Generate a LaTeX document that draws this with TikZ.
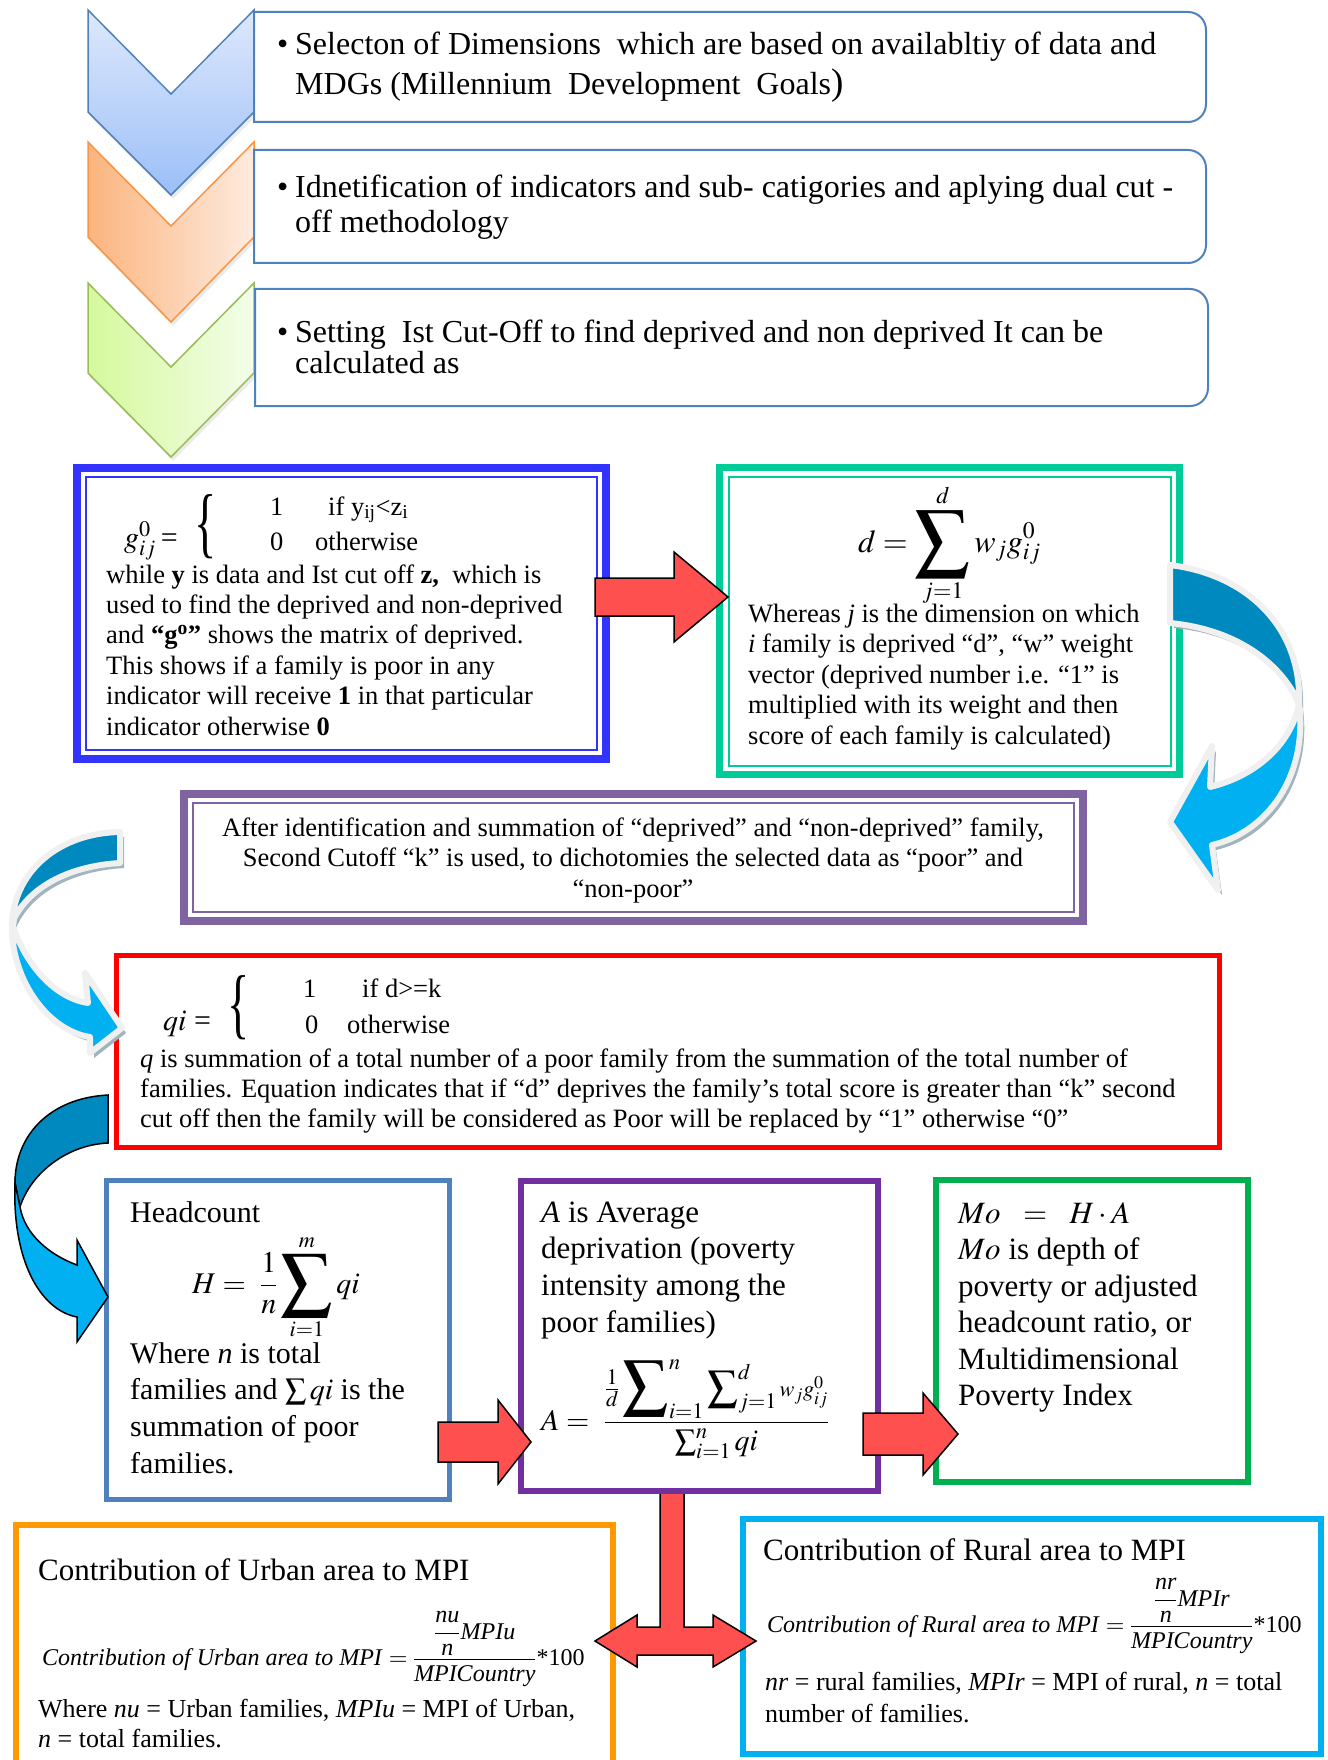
\documentclass[tikz,border=0pt]{standalone}
\usepackage{amsmath}
\usepackage{mathptmx}
\usepackage{fontspec}
\setmainfont{Liberation Serif}
\usetikzlibrary{calc}

\definecolor{chevbluetop}{HTML}{DDE8FC}
\definecolor{chevbluebot}{HTML}{9CBFF7}
\definecolor{chevblueline}{HTML}{4F81BD}
\definecolor{chevorgleft}{HTML}{FBB47E}
\definecolor{chevorgright}{HTML}{FEEBDF}
\definecolor{chevorgline}{HTML}{F79646}
\definecolor{chevgrnleft}{HTML}{D5F99C}
\definecolor{chevgrnright}{HTML}{F3FDE9}
\definecolor{chevgrnline}{HTML}{9BBB59}
\definecolor{stepline}{HTML}{4F81BD}
\definecolor{gboxline}{HTML}{3333FF}
\definecolor{dboxline}{HTML}{00CC99}
\definecolor{kboxline}{HTML}{8064A2}
\definecolor{qboxline}{HTML}{FF0000}
\definecolor{hboxline}{HTML}{4F81BD}
\definecolor{aboxline}{HTML}{7030A0}
\definecolor{moboxline}{HTML}{00B050}
\definecolor{uboxline}{HTML}{FF9900}
\definecolor{rboxline}{HTML}{00B0F0}
\definecolor{arrowred}{HTML}{FF5050}
\definecolor{turndark}{HTML}{0089BF}
\definecolor{turnlight}{HTML}{00B0F0}
\definecolor{turnrim}{HTML}{F0F0F0}
\definecolor{turnshade}{HTML}{9FB4BE}

\newcommand{\fsz}[2]{\fontsize{#1}{#2}\selectfont}
\newcommand{\textlines}[2]{\parbox[t]{#1}{#2}}
\newcommand{\bigsum}[1]{\mathop{\vcenter{\hbox{\scalebox{#1}{$\displaystyle\sum$}}}}}
\newcommand{\tallbrace}{\scalebox{1.1}[1.85]{\fsz{42}{42}\{}}

\tikzset{
  pbox/.style={draw, fill=white, inner sep=0pt, outer sep=0pt},
  txt/.style={inner sep=0pt, anchor=base west},
  stepframe/.style={draw=stepline, line width=2, fill=white},
  redblock/.style={fill=arrowred, draw=black, line width=1.5, line join=miter},
  twistback/.style={fill=turndark, draw=turnrim, line width=6, line join=round,
    preaction={fill=turnshade, transform canvas={shift={(4pt,-5pt)}}}},
  twistfront/.style={fill=turnlight, draw=turnrim, line width=6, line join=round,
    preaction={fill=turnshade, transform canvas={shift={(4pt,-5pt)}}}},
}

\begin{document}
\begin{tikzpicture}[x=1pt, y=-1pt]

  \useasboundingbox (0,0) rectangle (1327,1760);
  \fill[white] (0,0) rectangle (1327,1760);

  % chevrons on the left
  \fill[black!8] (90,14) -- (173,98) -- (256,14) -- (256,116) -- (173,199) -- (90,116) -- cycle;
  \shadedraw[top color=chevbluetop, bottom color=chevbluebot, draw=chevblueline, line width=1.5]
    (88,10) -- (171,94) -- (254,10) -- (254,112) -- (171,195) -- (88,112) -- cycle;
  \fill[black!8] (90,146) -- (173,230) -- (256,146) -- (256,241) -- (173,326) -- (90,241) -- cycle;
  \shadedraw[left color=chevorgleft, right color=chevorgright, draw=chevorgline, line width=1.5]
    (88,142) -- (171,226) -- (254,142) -- (254,237) -- (171,322) -- (88,237) -- cycle;
  \fill[black!8] (90,287) -- (173,371) -- (256,287) -- (256,377) -- (173,461) -- (90,377) -- cycle;
  \shadedraw[left color=chevgrnleft, right color=chevgrnright, draw=chevgrnline, line width=1.5]
    (88,283) -- (171,367) -- (254,283) -- (254,373) -- (171,457) -- (88,373) -- cycle;

  % step boxes
  \draw[stepframe] (254,12) -- (1188,12) .. controls (1198,12) and (1206,20) .. (1206,30)
    -- (1206,104) .. controls (1206,114) and (1198,122) .. (1188,122) -- (254,122) -- cycle;
  \draw[stepframe] (254,150) -- (1188,150) .. controls (1198,150) and (1206,158) .. (1206,168)
    -- (1206,245) .. controls (1206,255) and (1198,263) .. (1188,263) -- (254,263) -- cycle;
  \draw[stepframe] (255,289) -- (1190,289) .. controls (1200,289) and (1208,297) .. (1208,307)
    -- (1208,388) .. controls (1208,398) and (1200,406) .. (1190,406) -- (255,406) -- cycle;

  \node[txt, font=\fsz{32}{40}] (seltext) at (277,55) {\textlines{930pt}{\hangindent=18pt\hangafter=1
    \makebox[18pt][l]{\textbullet}Selecton of Dimensions\ \ which are based on availabltiy of data and\\
    MDGs (Millennium\ \ Development\ \ Goals{\fsz{37}{40})}}};
  \node[txt, font=\fsz{32}{35}] (idtext) at (277,198) {\textlines{930pt}{\hangindent=18pt\hangafter=1
    \makebox[18pt][l]{\textbullet}Idnetification of indicators and sub- catigories and aplying dual cut -\\
    off methodology}};
  \node[txt, font=\fsz{32}{31}] (settext) at (277,342) {\textlines{930pt}{\hangindent=18pt\hangafter=1
    \makebox[18pt][l]{\textbullet}Setting\ \ Ist Cut-Off to find deprived and non deprived It can be\\
    calculated as}};

  % bottom boxes and the T arrow under the A box
  \node[pbox, draw=uboxline, line width=6, minimum width=597, minimum height=247] (ubox) at (314.5,1648.5) {};
  \node[pbox, draw=rboxline, line width=6, minimum width=578, minimum height=235] (rbox) at (1032,1636.5) {};
  \draw[redblock] (660,1490) -- (660,1627) -- (637,1627) -- (637,1615) -- (595,1641) -- (637,1667)
    -- (637,1655) -- (713,1655) -- (713,1667) -- (756,1641) -- (713,1615) -- (713,1627)
    -- (684,1627) -- (684,1490);

  % framed boxes
  \node[pbox, draw=gboxline, line width=8, minimum width=529, minimum height=291] (gbox) at (341.5,613.5) {};
  \draw[gboxline, line width=2] ($(gbox.north west)+(9,9)$) rectangle ($(gbox.south east)+(-9,-9)$);
  \node[pbox, draw=dboxline, line width=7, minimum width=460, minimum height=307] (dbox) at (949.5,621) {};
  \draw[dboxline, line width=2] ($(dbox.north west)+(9,9)$) rectangle ($(dbox.south east)+(-9,-9)$);
  \node[pbox, draw=kboxline, line width=8, minimum width=899, minimum height=127] (kbox) at (633.5,857.5) {};
  \draw[kboxline, line width=2] ($(kbox.north west)+(9,9)$) rectangle ($(kbox.south east)+(-9,-9)$);
  \node[pbox, draw=qboxline, line width=5, minimum width=1103, minimum height=192] (qbox) at (668,1051.5) {};
  \node[pbox, draw=hboxline, line width=5, minimum width=343, minimum height=319] (hbox) at (278,1340) {};
  \node[pbox, draw=aboxline, line width=6, minimum width=357, minimum height=310] (abox) at (699.5,1336) {};
  \node[pbox, draw=moboxline, line width=6, minimum width=312, minimum height=302] (mobox) at (1092,1331) {};

  % first cut-off
  \node[txt, font=\fsz{30}{30}] (gdef) at (124,547) {$g^0_{ij}$\,=};
  \node[inner sep=0pt, anchor=west, font=\fsz{26}{30}] (gbrace) at (194,527) {\tallbrace};
  \node[txt, font=\fsz{26.5}{30}] (gone) at (270,515) {1};
  \node[txt, font=\fsz{26.5}{30}] (gif) at (328,515) {if y\textsubscript{ij}<z\textsubscript{i}};
  \node[txt, font=\fsz{26.5}{30}] (gzero) at (270,550) {0};
  \node[txt, font=\fsz{26.5}{30}] (gelse) at (315,550) {otherwise};
  \node[txt, font=\fsz{26.5}{30.4}] (gtext) at (106,583) {\textlines{500pt}{while \textbf{y} is data and Ist cut off \textbf{z,}\ \ which is\\
    used to find the deprived and non-deprived\\
    and \textbf{“g\textsuperscript{o}”} shows the matrix of deprived.\\
    This shows if a family is poor in any\\
    indicator will receive \textbf{1} in that particular\\
    indicator otherwise \textbf{0}}};

  % deprivation score
  \node[txt, font=\fsz{32}{34}] (dform) at (858,552) {$\displaystyle d=\bigsum{1.7}\limits_{j=1}^{d}w_j g^0_{ij}$};
  \node[txt, font=\fsz{26.5}{30.6}] (dtext) at (748,622) {\textlines{430pt}{Whereas \textit{j} is the dimension on which\\
    \textit{i} family is deprived “d”, “w” weight\\
    vector (deprived number i.e. “1” is\\
    multiplied with its weight and then\\
    score of each family is calculated)}};

  % second cut-off
  \node[inner sep=0pt, anchor=base, font=\fsz{26.5}{30.5}] (ktext) at (633,836) {\parbox[t]{880pt}{\centering
    After identification and summation of “deprived” and “non-deprived” family,\\
    Second Cutoff “k” is used, to dichotomies the selected data as “poor” and\\
    “non-poor”}};

  \node[txt, font=\fsz{30}{30}] (qdef) at (163,1030) {$qi$ =};
  \node[inner sep=0pt, anchor=west, font=\fsz{26}{30}] (qbrace) at (227,1008) {\tallbrace};
  \node[txt, font=\fsz{26.5}{30}] (qone) at (303,997) {1};
  \node[txt, font=\fsz{26.5}{30}] (qif) at (362,997) {if d>=k};
  \node[txt, font=\fsz{26.5}{30}] (qzero) at (305,1033) {0};
  \node[txt, font=\fsz{26.5}{30}] (qelse) at (347,1033) {otherwise};
  \node[txt, font=\fsz{26.5}{30}] (qtext) at (140,1067) {\textlines{1100pt}{\textit{q} is summation of a total number of a poor family from the summation of the total number of\\
    families. Equation indicates that if “d” deprives the family’s total score is greater than “k” second\\
    cut off then the family will be considered as Poor will be replaced by “1” otherwise “0”}};

  % headcount, intensity, MPI
  \node[txt, font=\fsz{30}{36.7}] (htitle) at (130,1222) {Headcount};
  \node[txt, font=\fsz{30}{36}] (hform) at (192,1293) {$\displaystyle H=\ \frac{1}{n}\bigsum{1.7}\limits_{i=1}^{m}qi$};
  \node[txt, font=\fsz{30}{36.7}] (htext) at (130,1363) {\textlines{320pt}{Where \textit{n} is total\\
    families and $\sum qi$ is the\\
    summation of poor\\
    families.}};

  \node[txt, font=\fsz{31}{36.7}] (atext) at (541,1222) {\textlines{330pt}{\textit{A} is Average\\
    deprivation (poverty\\
    intensity among the\\
    poor families)}};
  \node[txt, font=\fsz{30}{36}] (aform) at (541,1430) {$\displaystyle A=\ \frac{\frac{1}{d}\bigsum{1.5}\nolimits_{i=1}^{n}\bigsum{1}\nolimits_{j=1}^{d}\scriptstyle w_jg^0_{ij}}{\textstyle\sum_{i=1}^{n}qi}$};

  \node[txt, font=\fsz{31}{36.5}] (motext) at (958,1223) {\textlines{290pt}{$Mo\ \ =\ \ H\cdot A$\\
    $Mo$ is depth of\\
    poverty or adjusted\\
    headcount ratio, or\\
    Multidimensional\\
    Poverty Index}};

  % urban and rural shares
  \node[txt, font=\fsz{31}{36}] (utitle) at (38,1580) {Contribution of Urban area to MPI};
  \node[txt, font=\fsz{24}{28}] (uform) at (42,1665) {\textit{Contribution of Urban area to MPI} $=\dfrac{\dfrac{\textit{nu}}{\textit{n}}\textit{MPIu}}{\textit{MPICountry}}$*100};
  \node[txt, font=\fsz{26}{30}] (utext) at (38,1717) {\textlines{580pt}{Where \textit{nu} = Urban families, \textit{MPIu} = MPI of Urban,\\
    \textit{n} = total families.}};

  \node[txt, font=\fsz{31}{36}] (rtitle) at (763,1560) {Contribution of Rural area to MPI};
  \node[txt, font=\fsz{24}{28}] (rform) at (767,1632) {\textit{Contribution of Rural area to MPI} $=\dfrac{\dfrac{\textit{nr}}{\textit{n}}\textit{MPIr}}{\textit{MPICountry}}$*100};
  \node[txt, font=\fsz{26}{32}] (rtext) at (765,1690) {\textlines{570pt}{\textit{nr} = rural families, \textit{MPIr} = MPI of rural, \textit{n} = total\\
    number of families.}};

  % straight red arrows
  \coordinate (gd) at (595,597);
  \draw[redblock] (gd) ++(0,-19) -- ++(79,0) -- ++(0,-26) -- ++(54,45) -- ++(-54,45) -- ++(0,-26) -- ++(-79,0) -- cycle;
  \coordinate (ha) at (438,1442);
  \draw[redblock] (ha) ++(0,-20) -- ++(60,0) -- ++(0,-22) -- ++(33,42) -- ++(-33,42) -- ++(0,-22) -- ++(-60,0) -- cycle;
  \coordinate (am) at (863,1434);
  \draw[redblock] (am) ++(0,-21) -- ++(60,0) -- ++(0,-20) -- ++(35,41) -- ++(-35,41) -- ++(0,-20) -- ++(-60,0) -- cycle;

  % curved arrows
  \filldraw[twistback] (1170,565) .. controls (1250,575) and (1302,630) .. (1299,704)
    .. controls (1284,668) and (1242,630) .. (1170,623) -- cycle;
  \filldraw[twistfront] (1299,704) .. controls (1308,775) and (1268,832) .. (1212,845)
    -- (1218,890) -- (1170,822) -- (1212,746) -- (1210,787)
    .. controls (1252,777) and (1290,748) .. (1299,704) -- cycle;

  \filldraw[twistback] (120,832) .. controls (60,833) and (15,870) .. (12,923)
    .. controls (27,888) and (68,866) .. (120,863) -- cycle;
  \filldraw[twistfront] (12,923) .. controls (10,975) and (45,1030) .. (90,1037)
    -- (90,1053) -- (122,1028) -- (85,973) -- (88,1003)
    .. controls (55,998) and (25,965) .. (12,923) -- cycle;

  \filldraw[fill=turndark, draw=black, line width=1.5] (108,1095) .. controls (50,1098) and (15,1135) .. (15,1183)
    -- (20,1207) .. controls (30,1175) and (65,1145) .. (108,1143) -- cycle;
  \filldraw[fill=turnlight, draw=black, line width=1.5] (15,1183) .. controls (12,1260) and (40,1310) .. (77,1317)
    -- (77,1342) -- (108,1297) -- (77,1240) -- (77,1265)
    .. controls (50,1255) and (25,1235) .. (20,1207) -- cycle;

\end{tikzpicture}
\end{document}
